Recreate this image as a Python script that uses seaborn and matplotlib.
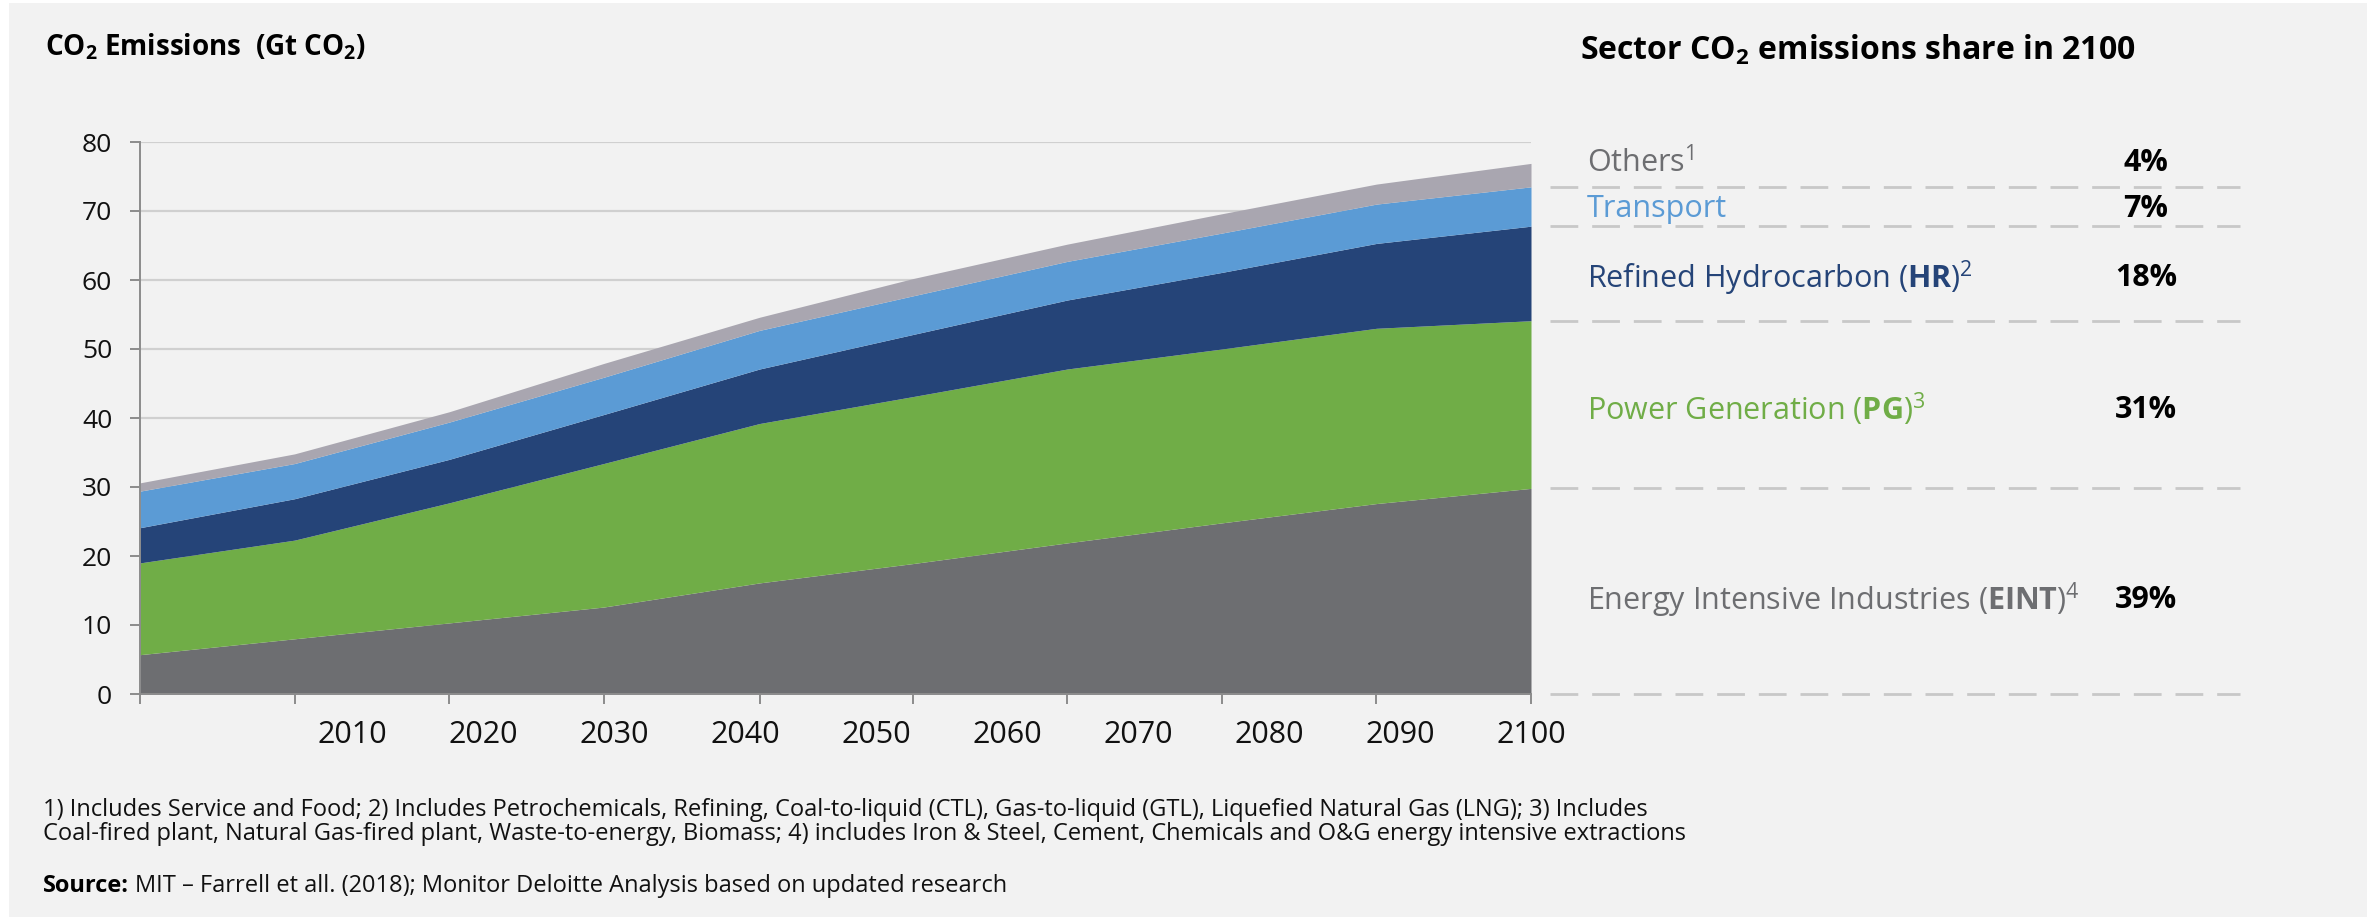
import pandas as pd
import matplotlib.pyplot as plt
import seaborn as sns
from matplotlib.patches import Rectangle
from matplotlib.ticker import FixedLocator, NullFormatter, FixedFormatter

# Values (Gt CO2 per sector, stacked bottom -> top)
years = [1993.8, 2005.6, 2017.4, 2029.2, 2041.1, 2052.8, 2064.6, 2076.4, 2088.2, 2100.0]
eint = [5.7, 8.0, 10.3, 12.6, 16.1, 18.9, 21.9, 24.8, 27.6, 29.8]
power = [13.3, 14.3, 17.4, 20.8, 23.1, 24.2, 25.2, 25.2, 25.4, 24.3]
refined = [5.1, 6.0, 6.3, 7.1, 7.9, 9.0, 10.0, 11.1, 12.3, 13.7]
transport = [5.3, 5.1, 5.4, 5.4, 5.6, 5.6, 5.6, 5.7, 5.7, 5.7]
others = [1.2, 1.4, 1.5, 2.0, 1.9, 2.5, 2.5, 2.8, 2.9, 3.4]

year_labels = [2010, 2020, 2030, 2040, 2050, 2060, 2070, 2080, 2090, 2100]

sector_keys = ['eint', 'power', 'refined', 'transport', 'others']
sector_names = [
    r'Energy Intensive Industries ($\mathbf{EINT}$)$^4$',
    r'Power Generation ($\mathbf{PG}$)$^3$',
    r'Refined Hydrocarbon ($\mathbf{HR}$)$^2$',
    'Transport',
    r'Others$^1$',
]
shares_2100 = ['39%', '31%', '18%', '7%', '4%']

colors = ['#6d6e71', '#70ad47', '#254478', '#5b9bd5', '#a9a6b0']
text_colors = ['#6d6e71', '#70ad47', '#254478', '#5b9bd5', '#6d6e71']

df = pd.DataFrame({'year': years, 'eint': eint, 'power': power,
                   'refined': refined, 'transport': transport, 'others': others})

sns.set_theme(style='white')
plt.rcParams['font.family'] = ['Open Sans', 'DejaVu Sans']
plt.rcParams['mathtext.fontset'] = 'custom'
plt.rcParams['mathtext.rm'] = 'Open Sans'
plt.rcParams['mathtext.it'] = 'Open Sans:italic'
plt.rcParams['mathtext.bf'] = 'Open Sans:bold'

W, H = 2367, 917
bg = '#f2f2f2'
fig = plt.figure(figsize=(W / 100, H / 100), dpi=100, facecolor='white')
fig.patches.append(Rectangle((9 / W, 0), (W - 9) / W, (H - 3) / H,
                             transform=fig.transFigure, facecolor=bg,
                             edgecolor='none', zorder=-10))

# plot area: x 140..1531 px, y 142..694 px
ax = fig.add_axes([140 / W, (H - 694) / H, (1531 - 140) / W, (694 - 142) / H])
ax.set_facecolor(bg)
ax.patch.set_alpha(0)

ax.stackplot(df['year'], [df[k] for k in sector_keys], colors=colors,
             linewidth=0, zorder=2)

ax.set_xlim(years[0], years[-1])
ax.set_ylim(0, 80)
ax.set_yticks(range(0, 81, 10))
ax.grid(axis='y', color='#d0d0d0', linewidth=1.6, zorder=0)
ax.grid(axis='x', visible=False)

# ticks sit on the data points, year labels on their own evenly spaced grid
ax.xaxis.remove_overlapping_locs = False
ax.xaxis.set_major_locator(FixedLocator(years))
ax.xaxis.set_major_formatter(NullFormatter())
ax.xaxis.set_minor_locator(FixedLocator(year_labels))
ax.xaxis.set_minor_formatter(FixedFormatter([str(y) for y in year_labels]))
ax.tick_params(axis='x', which='major', direction='out', length=7,
               width=1.4, color='#8c8c8c', bottom=True)
ax.tick_params(axis='x', which='minor', length=0, pad=19, labelsize=22,
               labelcolor='#111111', bottom=True)
ax.tick_params(axis='y', direction='out', length=7, width=1.4,
               color='#8c8c8c', pad=13, labelsize=19, labelcolor='#111111',
               left=True)

sns.despine(ax=ax, top=True, right=True)
for side in ['left', 'bottom']:
    ax.spines[side].set_color('#8c8c8c')
    ax.spines[side].set_linewidth(1.4)
    ax.spines[side].set_zorder(3)

# right-hand share panel, tied to the data y scale
tr = ax.get_yaxis_transform()
bounds = df[sector_keys].iloc[-1].cumsum().tolist()
for b in [0] + bounds[:-1]:
    ax.plot([1.0137, 1.5097], [b, b], transform=tr, clip_on=False,
            color='#c8c8c8', linewidth=2, dashes=(10, 5), zorder=1)

label_y = [13.6, 41.2, 60.3, 70.3, 77.0]
for name, share, c, y in zip(sector_names, shares_2100, text_colors, label_y):
    ax.text(1.0403, y, name, transform=tr, color=c, fontsize=22,
            va='center', ha='left')
    ax.text(1.4421, y, share, transform=tr, color='black', fontsize=22,
            fontweight='bold', va='center', ha='center')

# titles
fig.text(45 / W, 1 - 47 / H, r'CO$_\mathbf{2}$ Emissions  (Gt CO$_\mathbf{2}$)',
         fontsize=20, fontweight='bold', va='center', ha='left', color='black')
fig.text(1580 / W, 1 - 50 / H, r'Sector CO$_\mathbf{2}$ emissions share in 2100',
         fontsize=23, fontweight='bold', va='center', ha='left', color='black')

# footnotes
notes = [
    '1) Includes Service and Food; 2) Includes Petrochemicals, Refining, '
    'Coal-to-liquid (CTL), Gas-to-liquid (GTL), Liquefied Natural Gas (LNG); 3) Includes',
    'Coal-fired plant, Natural Gas-fired plant, Waste-to-energy, Biomass; '
    '4) includes Iron & Steel, Cement, Chemicals and O&G energy intensive extractions',
]
for i, line in enumerate(notes):
    fig.text(43 / W, 1 - (810 + 24 * i) / H, line, fontsize=17,
             va='center', ha='left', color='#111111')

src = fig.text(43 / W, 1 - 886 / H, 'Source:', fontsize=17, fontweight='bold',
               va='center', ha='left', color='black')
renderer = fig.canvas.get_renderer()
bb = src.get_window_extent(renderer)
fig.text((bb.x1 + 6) / W, 1 - 886 / H,
         'MIT – Farrell et all. (2018); Monitor Deloitte Analysis based on updated research',
         fontsize=17, va='center', ha='left', color='#111111')

fig.savefig('out.png', dpi=100, facecolor='white')
